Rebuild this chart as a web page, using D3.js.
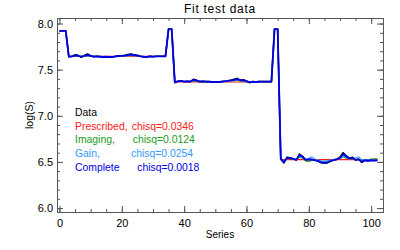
<!DOCTYPE html>
<html>
<head>
<meta charset="utf-8">
<script src="https://cdn.jsdelivr.net/npm/d3@7"></script>
<style>
  body { margin: 0; background: #fff; }
  svg { display: block; font-family: "Liberation Sans", Arial, sans-serif; }
</style>
</head>
<body>
<div id="chart"></div>
<script>
// --- DATA ---
const dataSeries = [
  7.92, 7.92, 7.92,
  7.640, 7.645, 7.660, 7.655, 7.635, 7.655, 7.670, 7.650, 7.640, 7.645, 7.640, 7.635, 7.640, 7.635, 7.635, 7.645,
  7.650, 7.650, 7.655, 7.665, 7.670, 7.660, 7.655, 7.645, 7.640, 7.635, 7.645, 7.640, 7.645, 7.645, 7.645, 7.645,
  7.94, 7.94,
  7.360, 7.375, 7.380, 7.370, 7.375, 7.370, 7.395, 7.385, 7.370, 7.375, 7.370, 7.370, 7.365, 7.365, 7.365, 7.370,
  7.375, 7.380, 7.385, 7.395, 7.405, 7.385, 7.390, 7.375, 7.360, 7.370, 7.365, 7.370, 7.370, 7.370, 7.370, 7.370,
  7.94, 7.94,
  6.530, 6.490, 6.550, 6.545, 6.535, 6.520, 6.585, 6.560, 6.520, 6.530, 6.525, 6.520, 6.510, 6.490, 6.485, 6.490,
  6.510, 6.520, 6.530, 6.550, 6.600, 6.565, 6.540, 6.550, 6.520, 6.530, 6.495, 6.520, 6.510, 6.520, 6.515, 6.520
];

const prescribed = [
  7.92, 7.92, 7.92,
  7.645, 7.645, 7.645, 7.645, 7.645, 7.645, 7.645, 7.645, 7.645, 7.645, 7.645, 7.645, 7.645, 7.645, 7.645, 7.645,
  7.645, 7.645, 7.645, 7.645, 7.645, 7.645, 7.645, 7.645, 7.645, 7.645, 7.645, 7.645, 7.645, 7.645, 7.645, 7.645,
  7.94, 7.94,
  7.367, 7.367, 7.367, 7.367, 7.367, 7.367, 7.367, 7.367, 7.367, 7.367, 7.367, 7.367, 7.367, 7.367, 7.367, 7.367,
  7.367, 7.367, 7.367, 7.367, 7.367, 7.367, 7.367, 7.367, 7.367, 7.367, 7.367, 7.367, 7.367, 7.367, 7.367, 7.367,
  7.94, 7.94,
  6.525, 6.525, 6.525, 6.525, 6.525, 6.525, 6.525, 6.525, 6.525, 6.525, 6.525, 6.525, 6.525, 6.525, 6.525, 6.525,
  6.525, 6.525, 6.525, 6.525, 6.525, 6.525, 6.525, 6.525, 6.525, 6.525, 6.525, 6.525, 6.525, 6.525, 6.525, 6.525
];

const imaging = [
  7.92, 7.92, 7.92,
  7.644, 7.645, 7.648, 7.647, 7.644, 7.646, 7.650, 7.647, 7.644, 7.645, 7.644, 7.642, 7.643, 7.642, 7.642, 7.644,
  7.646, 7.647, 7.648, 7.651, 7.652, 7.650, 7.648, 7.645, 7.643, 7.642, 7.644, 7.643, 7.645, 7.645, 7.645, 7.645,
  7.94, 7.94,
  7.368, 7.372, 7.374, 7.371, 7.372, 7.370, 7.378, 7.375, 7.368, 7.364, 7.366, 7.367, 7.366, 7.366, 7.367, 7.369,
  7.372, 7.374, 7.377, 7.381, 7.385, 7.378, 7.376, 7.370, 7.362, 7.366, 7.365, 7.368, 7.369, 7.370, 7.370, 7.370,
  7.94, 7.94,
  6.528, 6.510, 6.535, 6.535, 6.530, 6.525, 6.550, 6.540, 6.510, 6.505, 6.515, 6.515, 6.512, 6.505, 6.505, 6.510,
  6.518, 6.524, 6.530, 6.535, 6.555, 6.540, 6.532, 6.535, 6.525, 6.528, 6.515, 6.525, 6.520, 6.532, 6.535, 6.535
];

const gain = [
  7.92, 7.92, 7.92,
  7.642, 7.645, 7.652, 7.650, 7.643, 7.650, 7.655, 7.650, 7.645, 7.645, 7.643, 7.640, 7.642, 7.640, 7.640, 7.644,
  7.647, 7.648, 7.650, 7.655, 7.657, 7.653, 7.650, 7.646, 7.643, 7.641, 7.644, 7.643, 7.645, 7.645, 7.645, 7.645,
  7.94, 7.94,
  7.365, 7.372, 7.376, 7.372, 7.374, 7.372, 7.385, 7.380, 7.372, 7.373, 7.371, 7.370, 7.368, 7.368, 7.368, 7.371,
  7.373, 7.376, 7.380, 7.385, 7.392, 7.383, 7.384, 7.376, 7.366, 7.370, 7.368, 7.370, 7.370, 7.370, 7.370, 7.370,
  7.94, 7.94,
  6.530, 6.505, 6.540, 6.538, 6.530, 6.525, 6.560, 6.545, 6.528, 6.540, 6.555, 6.530, 6.520, 6.510, 6.508, 6.512,
  6.520, 6.525, 6.530, 6.540, 6.565, 6.548, 6.535, 6.540, 6.545, 6.555, 6.520, 6.525, 6.518, 6.522, 6.520, 6.522
];

const complete = [
  7.92, 7.92, 7.92,
  7.640, 7.645, 7.655, 7.650, 7.640, 7.650, 7.660, 7.650, 7.642, 7.643, 7.640, 7.637, 7.640, 7.637, 7.637, 7.643,
  7.648, 7.650, 7.653, 7.660, 7.662, 7.657, 7.652, 7.645, 7.640, 7.638, 7.643, 7.641, 7.644, 7.645, 7.645, 7.645,
  7.94, 7.94,
  7.362, 7.373, 7.378, 7.371, 7.374, 7.371, 7.390, 7.382, 7.371, 7.373, 7.370, 7.369, 7.366, 7.366, 7.366, 7.370,
  7.374, 7.378, 7.383, 7.390, 7.398, 7.385, 7.386, 7.375, 7.363, 7.369, 7.366, 7.369, 7.370, 7.370, 7.370, 7.370,
  7.94, 7.94,
  6.535, 6.495, 6.545, 6.540, 6.532, 6.522, 6.575, 6.555, 6.522, 6.528, 6.524, 6.518, 6.508, 6.495, 6.490, 6.494,
  6.510, 6.520, 6.528, 6.545, 6.585, 6.558, 6.538, 6.545, 6.522, 6.528, 6.500, 6.518, 6.512, 6.518, 6.515, 6.518
];

const legendNames = ["Prescribed,", "Imaging,", "Gain,", "Complete"];
const legendChisq = ["0.0346", "0.0124", "0.0254", "0.0018"];

const xTicks = [0, 20, 40, 60, 80, 100];
const xMinorTicks = [0, 5, 10, 15, 20, 25, 30, 35, 40, 45, 50, 55, 60, 65, 70, 75, 80, 85, 90, 95, 100];
const yTicks = [6.0, 6.5, 7.0, 7.5, 8.0];
const yMinorTicks = [6.0, 6.1, 6.2, 6.3, 6.4, 6.5, 6.6, 6.7, 6.8, 6.9, 7.0, 7.1, 7.2, 7.3, 7.4, 7.5, 7.6, 7.7, 7.8, 7.9, 8.0];

// --- LAYOUT ---
const W = 400, H = 250;
const plot = { left: 57, right: 383, top: 18, bottom: 212 };
const axisColor = "#555";

const svg = d3.select("#chart").append("svg")
  .attr("width", W).attr("height", H);

const x = d3.scaleLinear().domain([-0.8, 103.8]).range([plot.left, plot.right]);
const y = d3.scaleLinear().domain([5.957, 8.06]).range([plot.bottom, plot.top]);

// --- AXES ---
function styleAxis(g) {
  g.select(".domain").attr("stroke", axisColor);
  g.selectAll(".tick line").attr("stroke", axisColor);
  g.selectAll(".tick text").attr("fill", "#000").style("font-size", "11px")
    .attr("font-family", "Liberation Sans, Arial, sans-serif");
}

// bottom
svg.append("g").attr("transform", `translate(0,${plot.bottom})`)
  .call(d3.axisBottom(x).tickValues(xTicks).tickSize(-6).tickPadding(7).tickFormat(d3.format("d")))
  .call(styleAxis);
svg.append("g").attr("transform", `translate(0,${plot.bottom})`)
  .call(d3.axisBottom(x).tickValues(xMinorTicks).tickSize(-3).tickFormat(""))
  .call(styleAxis).call(g => g.select(".domain").remove());
// top
svg.append("g").attr("transform", `translate(0,${plot.top})`)
  .call(d3.axisTop(x).tickValues(xTicks).tickSize(-6).tickFormat(""))
  .call(styleAxis);
svg.append("g").attr("transform", `translate(0,${plot.top})`)
  .call(d3.axisTop(x).tickValues(xMinorTicks).tickSize(-3).tickFormat(""))
  .call(styleAxis).call(g => g.select(".domain").remove());
// left
svg.append("g").attr("transform", `translate(${plot.left},0)`)
  .call(d3.axisLeft(y).tickValues(yTicks).tickSize(-6).tickPadding(4).tickFormat(d3.format(".1f")))
  .call(styleAxis);
svg.append("g").attr("transform", `translate(${plot.left},0)`)
  .call(d3.axisLeft(y).tickValues(yMinorTicks).tickSize(-3).tickFormat(""))
  .call(styleAxis).call(g => g.select(".domain").remove());
// right
svg.append("g").attr("transform", `translate(${plot.right},0)`)
  .call(d3.axisRight(y).tickValues(yTicks).tickSize(-6).tickFormat(""))
  .call(styleAxis);
svg.append("g").attr("transform", `translate(${plot.right},0)`)
  .call(d3.axisRight(y).tickValues(yMinorTicks).tickSize(-3).tickFormat(""))
  .call(styleAxis).call(g => g.select(".domain").remove());

// --- TITLES ---
svg.append("text")
  .attr("x", (plot.left + plot.right) / 2).attr("y", 13)
  .attr("text-anchor", "middle")
  .style("font-size", "12px").style("letter-spacing", "0.7px")
  .text("Fit test data");

svg.append("text")
  .attr("x", (plot.left + plot.right) / 2).attr("y", 238)
  .attr("text-anchor", "middle")
  .style("font-size", "10px")
  .text("Series");

svg.append("text")
  .attr("transform", `translate(33,${(plot.top + plot.bottom) / 2}) rotate(-90)`)
  .attr("text-anchor", "middle")
  .style("font-size", "10.5px")
  .text("log(S)");

// --- LINES ---
const line = d3.line().x((d, i) => x(i)).y(d => y(d));

const lines = [
  { values: dataSeries, color: "#000000", width: 1.6 },
  { values: prescribed, color: "#ff1a1a", width: 1.1 },
  { values: imaging, color: "#1a9a1a", width: 1.1 },
  { values: gain, color: "#3399ff", width: 1.1 },
  { values: complete, color: "#0000e6", width: 1.8 }
];

svg.selectAll(".series").data(lines).enter().append("path")
  .attr("class", "series")
  .attr("fill", "none")
  .attr("stroke", d => d.color)
  .attr("stroke-width", d => d.width)
  .attr("stroke-linejoin", "round")
  .attr("d", d => line(d.values));

// --- LEGEND ---
const legendColors = ["#ff1a1a", "#1a9a1a", "#3399ff", "#0000e6"];
const legendX1 = 75;
const legendX2 = [131.7, 132.7, 131, 137.3];
const legendY0 = 116, legendDy = 13.7;

svg.append("text")
  .attr("x", legendX1).attr("y", legendY0)
  .style("font-size", "10.4px").attr("fill", "#000")
  .text("Data");

legendNames.forEach((name, i) => {
  const yy = legendY0 + legendDy * (i + 1);
  svg.append("text")
    .attr("x", legendX1).attr("y", yy)
    .style("font-size", "10.4px").attr("fill", legendColors[i])
    .text(name);
  svg.append("text")
    .attr("x", legendX2[i]).attr("y", yy)
    .style("font-size", "10.4px").attr("fill", legendColors[i])
    .text("chisq=" + legendChisq[i]);
});
</script>
</body>
</html>
